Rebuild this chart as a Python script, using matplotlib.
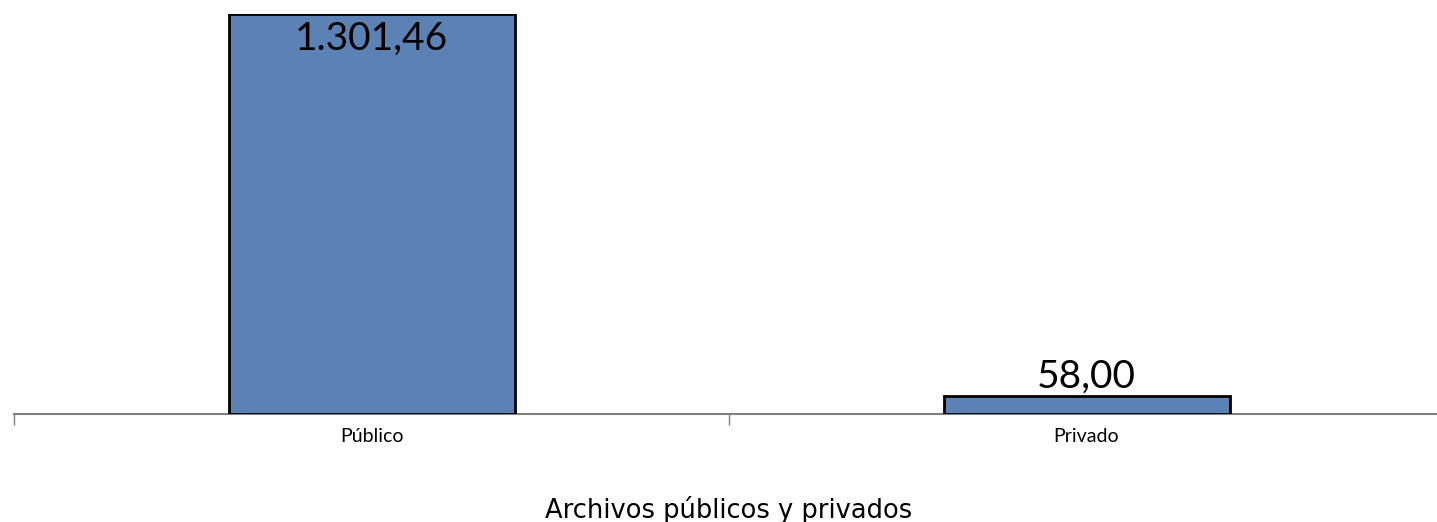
import matplotlib
matplotlib.use("Agg")
import matplotlib.pyplot as plt

categorias = ['Público', 'Privado']
valores = [1301.46, 58.00]
etiquetas = ['1.301,46', '58,00']
titulo = 'Archivos públicos y privados'

fig = plt.figure(figsize=(14.37, 5.22), dpi=100)
# el eje sigue un poco más allá del borde derecho, como en el original
ax = fig.add_axes([14/1437, (522-414)/522, 1430/1437, 400/522])

x = range(len(categorias))
ax.bar(x, valores, width=0.4, color='#5b81b5', edgecolor='black', linewidth=2, zorder=3)

ax.set_xlim(-0.5, 1.5)
ax.set_ylim(0, valores[0])

for xi, v, lab in zip(x, valores, etiquetas):
    if v > valores[0] * 0.9:
        ax.annotate(lab, (xi, v), xytext=(0, -5), textcoords='offset points',
                    ha='center', va='top', fontsize=28, family='Lato')
    else:
        ax.annotate(lab, (xi, v), xytext=(0, 1), textcoords='offset points',
                    ha='center', va='bottom', fontsize=28, family='Lato')

for s in ['top', 'right', 'left']:
    ax.spines[s].set_visible(False)
ax.spines['bottom'].set_color('#808080')
ax.spines['bottom'].set_linewidth(1.5)
ax.set_yticks([])

ax.set_xticks(list(x))
ax.set_xticklabels(categorias, fontsize=14, family='Lato')
ax.tick_params(axis='x', which='major', length=0, pad=10)
ax.set_xticks([-0.5, 0.5, 1.5], minor=True)
ax.tick_params(axis='x', which='minor', length=8, color='#808080', width=1)

fig.text(0.507, -0.004, titulo, ha='center', va='bottom', fontsize=18.5, family='DejaVu Sans')

fig.savefig('out.png', dpi=100)
